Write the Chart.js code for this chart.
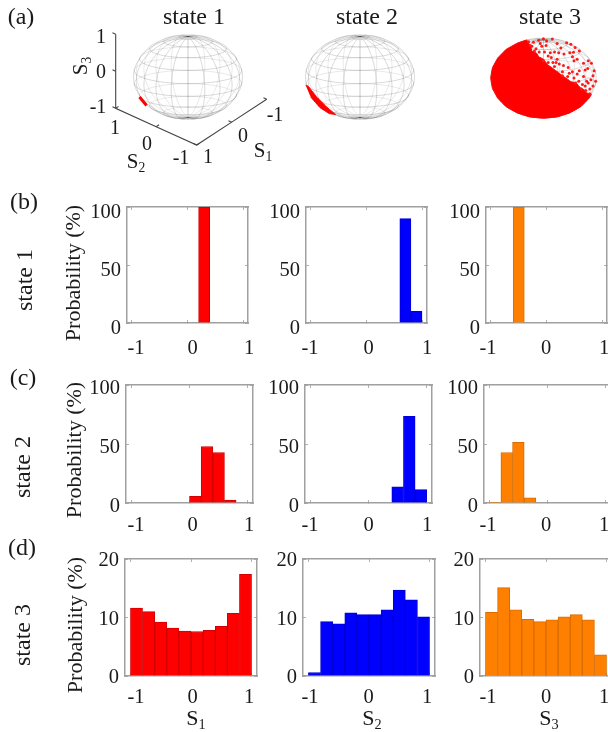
<!DOCTYPE html>
<html>
<head>
<meta charset="utf-8">
<script src="https://cdn.jsdelivr.net/npm/chart.js@4"></script>
<style>
html, body { margin: 0; padding: 0; background: #fff; }
#page { position: relative; width: 608px; height: 732px; overflow: hidden; font-family: "Liberation Serif", serif; color: #1a1a1a; filter: blur(0.4px); }
#page canvas { position: absolute; }
.txt { position: absolute; white-space: nowrap; line-height: 1; transform: translate(-50%, -50%); }
.txt sub { font-size: 65%; line-height: 0; vertical-align: -0.3em; }
</style>
</head>
<body>
<div id="page"></div>
<script>
// histogram bins, percent per bin
var binCenters = [-0.9, -0.7, -0.5, -0.3, -0.1, 0.1, 0.3, 0.5, 0.7, 0.9];

var state1S1 = [0, 0, 0, 0, 0, 0, 100, 0, 0, 0];
var state1S2 = [0, 0, 0, 0, 0, 0, 0, 0, 90, 10];
var state1S3 = [0, 0, 100, 0, 0, 0, 0, 0, 0, 0];

var state2S1 = [0, 0, 0, 0, 0, 5.6, 47.9, 42.8, 2.5, 0];
var state2S2 = [0, 0, 0, 0, 0, 0, 0, 13.8, 73.5, 11.3];
var state2S3 = [0.5, 42.8, 51.5, 4.3, 0, 0, 0, 0, 0, 0];

var state3S1 = [11.6, 11.0, 9.2, 8.2, 7.7, 7.6, 7.8, 8.5, 10.7, 17.4];
var state3S2 = [0.6, 9.3, 8.9, 10.8, 10.5, 10.5, 11.3, 14.7, 13.0, 10.1];
var state3S3 = [10.9, 15.1, 11.3, 9.7, 9.3, 9.6, 10.1, 10.5, 9.6, 3.6];

var xTickValues = [-1, 0, 1];
var yTickValues = [[0, 50, 100], [0, 50, 100], [0, 10, 20]];
var yMaxima = [100, 100, 20];

var patch1X = [-0.89, -0.76];
var patch1Y = [-0.47, -0.67];

var patch2X = [-0.997, -0.948, -0.795, -0.612, -0.446, -0.563, -0.734, -0.905];
var patch2Y = [-0.195, -0.219, -0.47, -0.705, -0.886, -0.862, -0.721, -0.47];

var patch3X = [-0.31, -0.5, -0.71, -0.866, -0.966, -1, -0.966, -0.866, -0.71, -0.5, -0.26, 0, 0.26, 0.5, 0.71, 0.866, 0.91,
    0.82, 0.78, 0.7, 0.62, 0.52, 0.46, 0.36, 0.3, 0.22, 0.15, 0.08, 0, -0.09, -0.13, -0.22, -0.24];
var patch3Y = [0.95, 0.866, 0.71, 0.5, 0.26, 0, -0.26, -0.5, -0.71, -0.866, -0.966, -1, -0.966, -0.866, -0.71, -0.5, -0.41,
    -0.37, -0.3, -0.24, -0.12, -0.09, -0.03, 0.06, 0.12, 0.2, 0.27, 0.33, 0.47, 0.53, 0.62, 0.67, 0.8];

var dots3X = [-0.19, -0.09, 0, 0.06, 0.17, -0.22, -0.14, -0.03, 0.05, 0.26, 0.44, 0.52, 0.6, 0.68, 0.13, 0.21, 0.29, 0.39, 0.5, 0.57,
    0.55, 0.15, 0.26, 0.3, 0.38, 0.47, 0.58, 0.76, 0.85, 0.91, 0.96, 0.84, 0.68, 0.55, 0.64, 0.76, 0.9, 0.85, 0.79, 0.88,
    0.8, 0.58, 0.46, 0, 0.09, 0.18, 0.36, 0.67, 0.99, 0.94,
    -0.28, -0.25, -0.17, -0.08, 0.02, 0.09, 0.21, 0.24, 0.36, 0.49, 0.61, 0.74, 0.82, 0.72, 0.88, 0.94, -0.06, 0.33, 0.64, 0.79];
var dots3Y = [0.89, 0.94, 0.98, 0.92, 0.97, 0.79, 0.73, 0.79, 0.81, 0.86, 0.88, 0.84, 0.76, 0.67, 0.63, 0.65, 0.63, 0.6, 0.63, 0.64,
    0.53, 0.51, 0.47, 0.35, 0.31, 0.26, 0.43, 0.37, 0.43, 0.37, 0.18, 0.24, 0.18, 0.16, 0.1, 0.04, -0.04, -0.12, -0.2, -0.27,
    -0.31, 0, 0.04, 0.43, 0.39, 0.39, 0.16, -0.08, -0.08, 0.06,
    0.9, 0.81, 0.67, 0.65, 0.65, 0.55, 0.29, 0.39, 0.06, 0.12, -0.12, -0.16, -0.08, -0.27, -0.39, -0.2, 0.86, 0.75, 0.47, 0.2];

// wireframe rings of the sphere, degrees
var meridians = [0, 18, 36, 54, 72, 90, 108, 126, 144, 162, 180, 198, 216, 234, 252, 270, 288, 306, 324, 342];
var parallels = [-81, -63, -45, -27, -9, 9, 27, 45, 63, 81];

// layout
var rowTops = [207, 385, 559];
var rowHeights = [116, 118, 117];
var rowWidths = [121, 127, 132];
var panelLefts = [[127, 306, 486], [126, 305, 484], [125, 303, 480]];
var yLabelShift = [6, 4, 2];
var xLabelPadding = [13, 10, 9];
var xLabelSpots = [[136, 249], [310, 427], [488, 604]];
var barFill = ['#ff0000', '#0000ff', '#ff8000'];
var barEdge = ['#d20000', '#0000d2', '#d86c00'];

var page = document.getElementById('page');

function addText(html, x, y, size, rotated) {
    var d = document.createElement('div');
    d.className = 'txt';
    d.innerHTML = html;
    d.style.left = x + 'px';
    d.style.top = y + 'px';
    d.style.fontSize = size + 'px';
    if (rotated) d.style.transform = 'translate(-50%, -50%) rotate(-90deg)';
    page.appendChild(d);
}

function addCanvas(left, top, w, h) {
    var c = document.createElement('canvas');
    c.width = w;
    c.height = h;
    c.style.left = left + 'px';
    c.style.top = top + 'px';
    c.style.width = w + 'px';
    c.style.height = h + 'px';
    page.appendChild(c);
    return c;
}

function fixedTicks(values) {
    return function (scale) {
        scale.ticks = values.map(function (v) { return { value: v }; });
    };
}

// box side with short ticks pointing into the plot, no labels
function boxSide(position, min, max, values) {
    return {
        type: 'linear', position: position, min: min, max: max, offset: false,
        afterBuildTicks: fixedTicks(values),
        afterFit: function (s) { if (s.isHorizontal()) s.height = 0; else s.width = 0; },
        ticks: { display: false },
        border: { color: '#a0a0a0', width: 1.5 },
        grid: { offset: false, drawOnChartArea: false, tickLength: -3, color: '#b0b0b0', lineWidth: 1 }
    };
}

// labels only, the overhang padding is cleared or it would shrink the plot
function labelSide(position, min, max, values, size, padding) {
    return {
        type: 'linear', position: position, min: min, max: max, offset: false,
        afterBuildTicks: fixedTicks(values),
        afterFit: function (s) {
            if (s.isHorizontal()) s.height = size; else s.width = size;
            s.paddingLeft = s.paddingRight = s.paddingTop = s.paddingBottom = 0;
        },
        border: { display: false },
        grid: { display: false, drawTicks: false },
        ticks: {
            padding: padding, color: '#1a1a1a', maxRotation: 0, autoSkip: false,
            font: { family: 'Liberation Serif', size: 20.5 },
            callback: function (v) { return String(v); }
        }
    };
}

function histogram(row, col, values) {
    var L = panelLefts[row][col], T = rowTops[row], W = rowWidths[row], H = rowHeights[row];
    var padLeft = 60, padTop = 14, padRight = 14, padBottom = 34;
    var yMax = yMaxima[row];
    var unit = (xLabelSpots[col][1] - xLabelSpots[col][0]) / 2;
    var shift = yLabelShift[row] / H * yMax;

    new Chart(addCanvas(L - padLeft, T - padTop, W + padLeft + padRight, H + padTop + padBottom), {
        type: 'bar',
        data: {
            datasets: [{
                // empty bins stay null so no flat bar shows on the axis
                data: binCenters.map(function (c, i) { return { x: c, y: values[i] > 0 ? values[i] : null }; }),
                xAxisID: 'x', yAxisID: 'y',
                backgroundColor: barFill[col],
                borderColor: barEdge[col],
                borderWidth: 1,
                barPercentage: 1, categoryPercentage: 1
            }]
        },
        options: {
            responsive: false, animation: false,
            layout: { padding: { top: padTop, right: padRight } },
            plugins: { legend: { display: false }, tooltip: { enabled: false } },
            scales: {
                x: boxSide('bottom', -1.09, 1.09, xTickValues),
                xTop: boxSide('top', -1.09, 1.09, xTickValues),
                y: boxSide('left', 0, yMax, yTickValues[row]),
                yRight: boxSide('right', 0, yMax, yTickValues[row]),
                xLabels: labelSide('bottom',
                    -1 - (xLabelSpots[col][0] - L) / unit, 1 + (L + W - xLabelSpots[col][1]) / unit,
                    xTickValues, padBottom, xLabelPadding[row]),
                yLabels: labelSide('left', shift, yMax + shift, yTickValues[row], padLeft, 6)
            }
        }
    });
}

// sphere: 54.5 x 42.5 px radii, centre at cx, cy
var rx = 54.5, ry = 42.5, cy = 77;
var tilt = 18 * Math.PI / 180;

function ringPoint(lon, lat) {
    var a = lon * Math.PI / 180, b = lat * Math.PI / 180;
    var depth = Math.sin(a) * Math.cos(b);
    return {
        x: Math.cos(a) * Math.cos(b),
        y: Math.sin(b) * Math.cos(tilt) - depth * Math.sin(tilt),
        front: depth > -1e-6
    };
}

// tiny tension keeps chart.js off its x-sorted fast path, these lines double back
function lineSet(data, extra) {
    return Object.assign({ data: data, showLine: true, pointRadius: 0, tension: 0.001 }, extra);
}

var frontStyle = { borderColor: 'rgba(0,0,0,0.15)', borderWidth: 1 };
var backStyle = { borderColor: 'rgba(0,0,0,0.09)', borderWidth: 1 };

// one dataset per visible run of a ring, split where it passes behind the sphere
function wireframe() {
    var sets = [];
    function addRuns(points) {
        var run = [];
        points.forEach(function (p, i) {
            run.push({ x: p.x, y: p.y });
            if (i === points.length - 1 || points[i + 1].front !== p.front) {
                sets.push(lineSet(run, p.front ? frontStyle : backStyle));
                run = [{ x: p.x, y: p.y }];
            }
        });
    }
    parallels.forEach(function (lat) {
        var pts = [];
        for (var t = 0; t <= 360; t += 6) pts.push(ringPoint(t, lat));
        addRuns(pts);
    });
    meridians.forEach(function (lon) {
        var pts = [];
        for (var lat = -90; lat <= 90; lat += 6) pts.push(ringPoint(lon, lat));
        addRuns(pts);
    });
    return sets;
}

function zip(xs, ys) {
    return xs.map(function (x, i) { return { x: x, y: ys[i] }; });
}

// 3D box axes of the first panel, in S coordinates
function axisPoint(s1, s2, s3) {
    var px = 191.2 - 35 * s1 - 40.5 * s2;
    var py = 66.8 + 22.85 * s1 - 18.35 * s2 - 37 * s3;
    return { x: (px - 188) / rx, y: (cy - py) / ry };
}

function axisLines() {
    var style = { borderColor: '#444444', borderWidth: 1.1 };
    var sets = [lineSet([axisPoint(1, 1, 1), axisPoint(1, 1, -1), axisPoint(1, -1, -1), axisPoint(-1, -1, -1)], style)];
    xTickValues.forEach(function (v) {
        sets.push(lineSet([axisPoint(1, 1, v), axisPoint(1, 1.08, v)], style));
        sets.push(lineSet([axisPoint(1, v, -1), axisPoint(0.92, v, -1)], style));
        sets.push(lineSet([axisPoint(v, -1, -1), axisPoint(v, -0.92, -1)], style));
    });
    return sets;
}

// chart.js paints the first dataset on top, so marks go before the wireframe
function sphere(cx, marks) {
    var left = Math.round(cx) - 128, top = 22, w = 250, h = 150;
    new Chart(addCanvas(left, top, w, h), {
        type: 'scatter',
        data: { datasets: marks.concat(wireframe()) },
        options: {
            responsive: false, animation: false,
            plugins: { legend: { display: false }, tooltip: { enabled: false } },
            scales: {
                x: { display: false, min: (left - cx) / rx, max: (left + w - cx) / rx },
                y: { display: false, min: (cy - top - h) / ry, max: (cy - top) / ry }
            }
        }
    });
}

sphere(188, axisLines().concat([
    lineSet(zip(patch1X, patch1Y), { borderColor: '#ff0000', borderWidth: 3 })
]));
sphere(360, [
    lineSet(zip(patch2X, patch2Y), { fill: 'shape', borderColor: '#ff0000', backgroundColor: '#ff0000', borderWidth: 1 })
]);
sphere(543.5, [
    { data: zip(dots3X, dots3Y), pointRadius: 1.5, pointBorderWidth: 0, backgroundColor: '#ff1a1a' },
    lineSet(zip(patch3X, patch3Y), { fill: 'shape', borderColor: '#ff0000', backgroundColor: '#ff0000', borderWidth: 1 })
]);

histogram(0, 0, state1S1);
histogram(0, 1, state1S2);
histogram(0, 2, state1S3);
histogram(1, 0, state2S1);
histogram(1, 1, state2S2);
histogram(1, 2, state2S3);
histogram(2, 0, state3S1);
histogram(2, 1, state3S2);
histogram(2, 2, state3S3);

// panel letters and titles
addText('(a)', 21, 16, 24);
addText('(b)', 24, 201, 24);
addText('(c)', 23, 377, 24);
addText('(d)', 22, 547, 24);
addText('state 1', 194, 16, 24);
addText('state 2', 367, 16, 24);
addText('state 3', 550, 16, 24);

// row labels
addText('state 1', 24, 280, 24, true);
addText('state 2', 22, 467, 24, true);
addText('state 3', 22, 635, 24, true);
addText('Probability (%)', 73, 273, 22, true);
addText('Probability (%)', 74, 450, 22, true);
addText('Probability (%)', 75, 625, 22, true);

// bottom axis names
addText('S<sub>1</sub>', 196, 718, 22);
addText('S<sub>2</sub>', 372, 718, 22);
addText('S<sub>3</sub>', 549, 718, 22);

// labels of the 3D axes
addText('1', 101, 36, 20);
addText('0', 101, 71, 20);
addText('-1', 98, 106, 20);
addText('S<sub>3</sub>', 80, 66, 21, true);
addText('1', 115, 127, 20);
addText('0', 147, 143, 20);
addText('-1', 181, 157, 20);
addText('S<sub>2</sub>', 136, 161, 21);
addText('1', 208, 156, 20);
addText('0', 243, 135, 20);
addText('-1', 275, 114, 20);
addText('S<sub>1</sub>', 263, 150, 21);
</script>
</body>
</html>
